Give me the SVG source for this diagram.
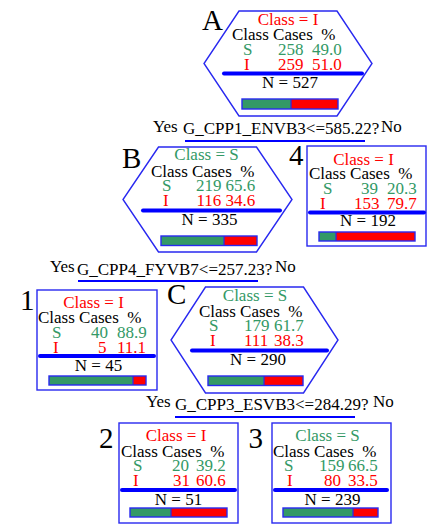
<svg xmlns="http://www.w3.org/2000/svg" width="427" height="524" viewBox="0 0 427 524">
<style>
text{font-family:"Liberation Serif","Times New Roman",serif;font-size:17px;fill:#000;white-space:pre}
.lbl{font-size:29px}
.r{fill:#FF0000}
.g{fill:#339966}
.m{text-anchor:middle}
.hex,.box{fill:#fff;stroke:#2828F0;stroke-width:1.4}
.sep{stroke:#0000FF;stroke-width:4;stroke-linecap:round}
.ul{stroke:#0000FF;stroke-width:2}
.bg{fill:#339966}
.br{fill:#FF0000}
.bo{fill:none;stroke:#2828F0;stroke-width:1.4}
.bd{stroke:#2828F0;stroke-width:1.2}
</style>
<rect width="427" height="524" fill="#fff"/>
<g id="splits">
<text x="153" y="132">Yes</text><text x="183" y="134">G_CPP1_ENVB3&lt;=585.22?</text><text x="381" y="132">No</text>
<line class="ul" x1="185" y1="141" x2="365" y2="141"/>
<text x="50" y="272">Yes</text><text x="77" y="275">G_CPP4_FYVB7&lt;=257.23?</text><text x="275" y="272">No</text>
<line class="ul" x1="78" y1="281" x2="258" y2="281"/>
<text x="146" y="407">Yes</text><text x="175" y="410">G_CPP3_ESVB3&lt;=284.29?</text><text x="373" y="407">No</text>
<line class="ul" x1="175" y1="417" x2="355" y2="417"/>
</g>
<g id="node-A">
<polygon class="hex" points="239,11 337,11 372,63.5 337,116 239,116 204,63.5"/>
<text class="lbl" x="202" y="30">A</text>
<text class="r m" x="288" y="24.5">Class = I</text>
<text x="232" y="39.5">Class Cases  %</text>
<text class="g" x="243" y="55">S</text><text class="g" x="278" y="55">258</text><text class="g" x="312" y="55">49.0</text>
<text class="r" x="244" y="70">I</text><text class="r" x="278" y="70">259</text><text class="r" x="312" y="70">51.0</text>
<line class="sep" x1="224" y1="73.5" x2="362" y2="73.5"/>
<text class="m" x="290" y="88">N = 527</text>
<rect class="bg" x="242" y="99" width="49" height="10"/><rect class="br" x="291" y="99" width="47" height="10"/>
<line class="bd" x1="291" y1="99" x2="291" y2="109"/><rect class="bo" x="242" y="99" width="96" height="10"/>
</g>
<g id="node-B">
<polygon class="hex" points="158.5,147 256.5,147 292,199.5 256.5,252 158.5,252 123,199.5"/>
<text class="lbl" x="122" y="168">B</text>
<text class="g m" x="206.5" y="160">Class = S</text>
<text x="151" y="177">Class Cases  %</text>
<text class="g" x="162" y="191">S</text><text class="g" x="196" y="191">219</text><text class="g" x="225.5" y="191">65.6</text>
<text class="r" x="163" y="206">I</text><text class="r" x="196.5" y="206">116</text><text class="r" x="225.5" y="206">34.6</text>
<line class="sep" x1="143" y1="210.5" x2="280" y2="210.5"/>
<text class="m" x="209.5" y="225">N = 335</text>
<rect class="bg" x="161" y="236" width="63" height="9.5"/><rect class="br" x="224" y="236" width="33" height="9.5"/>
<line class="bd" x1="224" y1="236" x2="224" y2="245.5"/><rect class="bo" x="161" y="236" width="96" height="9.5"/>
</g>
<g id="node-4">
<rect class="box" x="307" y="146" width="119" height="100"/>
<text class="lbl" x="289" y="165">4</text>
<text class="r m" x="363.5" y="165">Class = I</text>
<text x="309" y="179">Class Cases  %</text>
<text class="g" x="323" y="194">S</text><text class="g" x="361" y="194">39</text><text class="g" x="387" y="194">20.3</text>
<text class="r" x="320" y="209">I</text><text class="r" x="354" y="209">153</text><text class="r" x="387" y="209">79.7</text>
<line class="sep" x1="310" y1="212.5" x2="424" y2="212.5"/>
<text class="m" x="368" y="226">N = 192</text>
<rect class="bg" x="319" y="232" width="17" height="9"/><rect class="br" x="336" y="232" width="79" height="9"/>
<line class="bd" x1="336" y1="232" x2="336" y2="241"/><rect class="bo" x="319" y="232" width="96" height="9"/>
</g>
<g id="node-1">
<rect class="box" x="37" y="290" width="120" height="100"/>
<text class="lbl" x="20" y="310">1</text>
<text class="r m" x="93.5" y="308">Class = I</text>
<text x="38" y="323">Class Cases  %</text>
<text class="g" x="52" y="338">S</text><text class="g" x="91" y="338">40</text><text class="g" x="117" y="338">88.9</text>
<text class="r" x="53" y="353">I</text><text class="r" x="98" y="353">5</text><text class="r" x="117" y="353">11.1</text>
<line class="sep" x1="40" y1="356" x2="154" y2="356"/>
<text class="m" x="98.5" y="371">N = 45</text>
<rect class="bg" x="49" y="376" width="84" height="9"/><rect class="br" x="133" y="376" width="13" height="9"/>
<line class="bd" x1="133" y1="376" x2="133" y2="385"/><rect class="bo" x="49" y="376" width="97" height="9"/>
</g>
<g id="node-C">
<polygon class="hex" points="205.5,287 303.5,287 338,340 303.5,393 205.5,393 171,340"/>
<text class="lbl" x="167" y="304">C</text>
<text class="g m" x="255" y="301">Class = S</text>
<text x="199" y="317">Class Cases  %</text>
<text class="g" x="209" y="331">S</text><text class="g" x="244" y="331">179</text><text class="g" x="274" y="331">61.7</text>
<text class="r" x="210" y="346">I</text><text class="r" x="244" y="346">111</text><text class="r" x="274" y="346">38.3</text>
<line class="sep" x1="192" y1="350.5" x2="327" y2="350.5"/>
<text class="m" x="258" y="365">N = 290</text>
<rect class="bg" x="208" y="376" width="56" height="9.5"/><rect class="br" x="264" y="376" width="39" height="9.5"/>
<line class="bd" x1="264" y1="376" x2="264" y2="385.5"/><rect class="bo" x="208" y="376" width="95" height="9.5"/>
</g>
<g id="node-2">
<rect class="box" x="119" y="423" width="119" height="100"/>
<text class="lbl" x="99" y="448">2</text>
<text class="r m" x="176" y="441">Class = I</text>
<text x="121" y="456.5">Class Cases  %</text>
<text class="g" x="133" y="471">S</text><text class="g" x="172" y="471">20</text><text class="g" x="196" y="471">39.2</text>
<text class="r" x="133" y="486">I</text><text class="r" x="173" y="486">31</text><text class="r" x="196" y="486">60.6</text>
<line class="sep" x1="122" y1="490" x2="235" y2="490"/>
<text class="m" x="178.5" y="504.5">N = 51</text>
<rect class="bg" x="130" y="508" width="41" height="9"/><rect class="br" x="171" y="508" width="56" height="9"/>
<line class="bd" x1="171" y1="508" x2="171" y2="517"/><rect class="bo" x="130" y="508" width="97" height="9"/>
</g>
<g id="node-3">
<rect class="box" x="272" y="423" width="119" height="100"/>
<text class="lbl" x="248.5" y="448">3</text>
<text class="g m" x="327.5" y="441">Class = S</text>
<text x="273" y="456.5">Class Cases  %</text>
<text class="g" x="284" y="471">S</text><text class="g" x="319" y="471">159</text><text class="g" x="348" y="471">66.5</text>
<text class="r" x="287" y="486">I</text><text class="r" x="324" y="486">80</text><text class="r" x="348" y="486">33.5</text>
<line class="sep" x1="275" y1="490" x2="387" y2="490"/>
<text class="m" x="332.5" y="504.5">N = 239</text>
<rect class="bg" x="283" y="508" width="70" height="9"/><rect class="br" x="353" y="508" width="25" height="9"/>
<line class="bd" x1="353" y1="508" x2="353" y2="517"/><rect class="bo" x="283" y="508" width="95" height="9"/>
</g>
</svg>
